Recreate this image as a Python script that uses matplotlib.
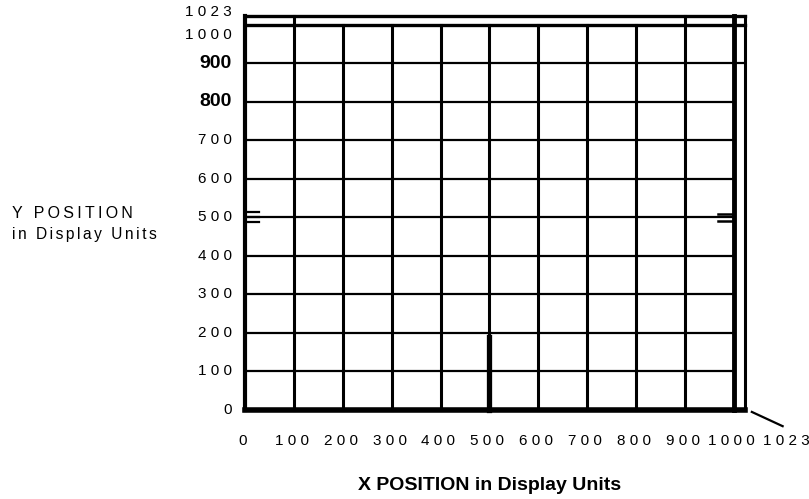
import matplotlib.pyplot as plt

# Grid values (display units)
x_ticks = [0, 100, 200, 300, 400, 500, 600, 700, 800, 900, 1000, 1023]
y_ticks = [0, 100, 200, 300, 400, 500, 600, 700, 800, 900, 1000, 1023]
x_labels = ['0', '100', '200', '300', '400', '500', '600', '700', '800', '900', '1000', '1023']
y_labels = ['0', '100', '200', '300', '400', '500', '600', '700', '800', '900', '1000', '1023']
bold_y = ['800', '900']
spike_x = 500
spike_top = 190

FONT = ['Liberation Sans', 'DejaVu Sans']


def spaced(s, sep=' '):
    """Wide letter spacing like the scanned original"""
    return sep.join(s)


fig = plt.figure(figsize=(8.09, 4.99), dpi=100)
ax = fig.add_axes([245 / 809, 1 - 410 / 499, 500 / 809, 394 / 499])
ax.set_xlim(0, 1023)
ax.set_ylim(0, 1023)
ax.axis('off')

kw = dict(color='black', clip_on=False, solid_capstyle='projecting')

# interior grid
for x in x_ticks[1:-2]:
    top = 1023 if x in (100, 900) else 1000
    ax.plot([x, x], [0, top], lw=2.2, **kw)
for y in y_ticks[1:-2]:
    right = 1023 if y == 900 else 1000
    ax.plot([0, right], [y, y], lw=1.6, **kw)

# heavy frame lines
ax.plot([0, 1023], [1000, 1000], lw=2.4, **kw)
ax.plot([0, 1023], [1023, 1023], lw=2.4, **kw)
ax.plot([1000, 1000], [0, 1023], lw=3.5, **kw)
ax.plot([1023, 1023], [0, 1023], lw=2.2, **kw)
ax.plot([0, 0], [0, 1023], lw=3, **kw)
ax.plot([0, 1023], [0, 0], lw=4, **kw)

# centre spike and 500 marks
ax.plot([spike_x, spike_x], [0, spike_top], lw=3.8, **kw)
for y in (487, 500, 513):
    ax.plot([0, 28], [y, y], lw=1.6, **kw)
for y in (490, 510):
    ax.plot([968, 1000], [y, y], lw=1.8, **kw)

# leader line to the 1023 label
ax.plot([1037, 1100], [-5, -42], lw=1.6, color='black', clip_on=False)

# x tick labels
for x, lab in zip(x_ticks, x_labels):
    dx = 30 if lab == '1023' else -1.5
    ax.annotate(spaced(lab), (x, 0), xytext=(dx, -22.5), textcoords='offset points',
                ha='center', va='center', fontsize=11, family=FONT)

# y tick labels
for y, lab in zip(y_ticks, y_labels):
    dy = {'1000': -7, '1023': 3}.get(lab, 0)
    if lab in bold_y:
        ax.annotate(lab, (0, y), xytext=(-9.4, dy), textcoords='offset points',
                    ha='right', va='center', fontsize=14, fontweight='bold', family=FONT)
    else:
        ax.annotate(spaced(lab), (0, y), xytext=(-9.4, dy), textcoords='offset points',
                    ha='right', va='center', fontsize=11, family=FONT)

# axis titles
fig.text(12 / 809, 1 - 213 / 499, spaced('Y POSITION', '\u2009'),
         ha='left', va='center', fontsize=11.5, family=FONT)
fig.text(12 / 809, 1 - 235 / 499, spaced('in Display Units', '\u200a\u200a'),
         ha='left', va='center', fontsize=11.2, family=FONT)
fig.text(490 / 809, 1 - 485 / 499, 'X POSITION in Display Units',
         ha='center', va='center', fontsize=14, fontweight='bold', family=FONT)

fig.savefig('out.png', dpi=100, facecolor='white')
